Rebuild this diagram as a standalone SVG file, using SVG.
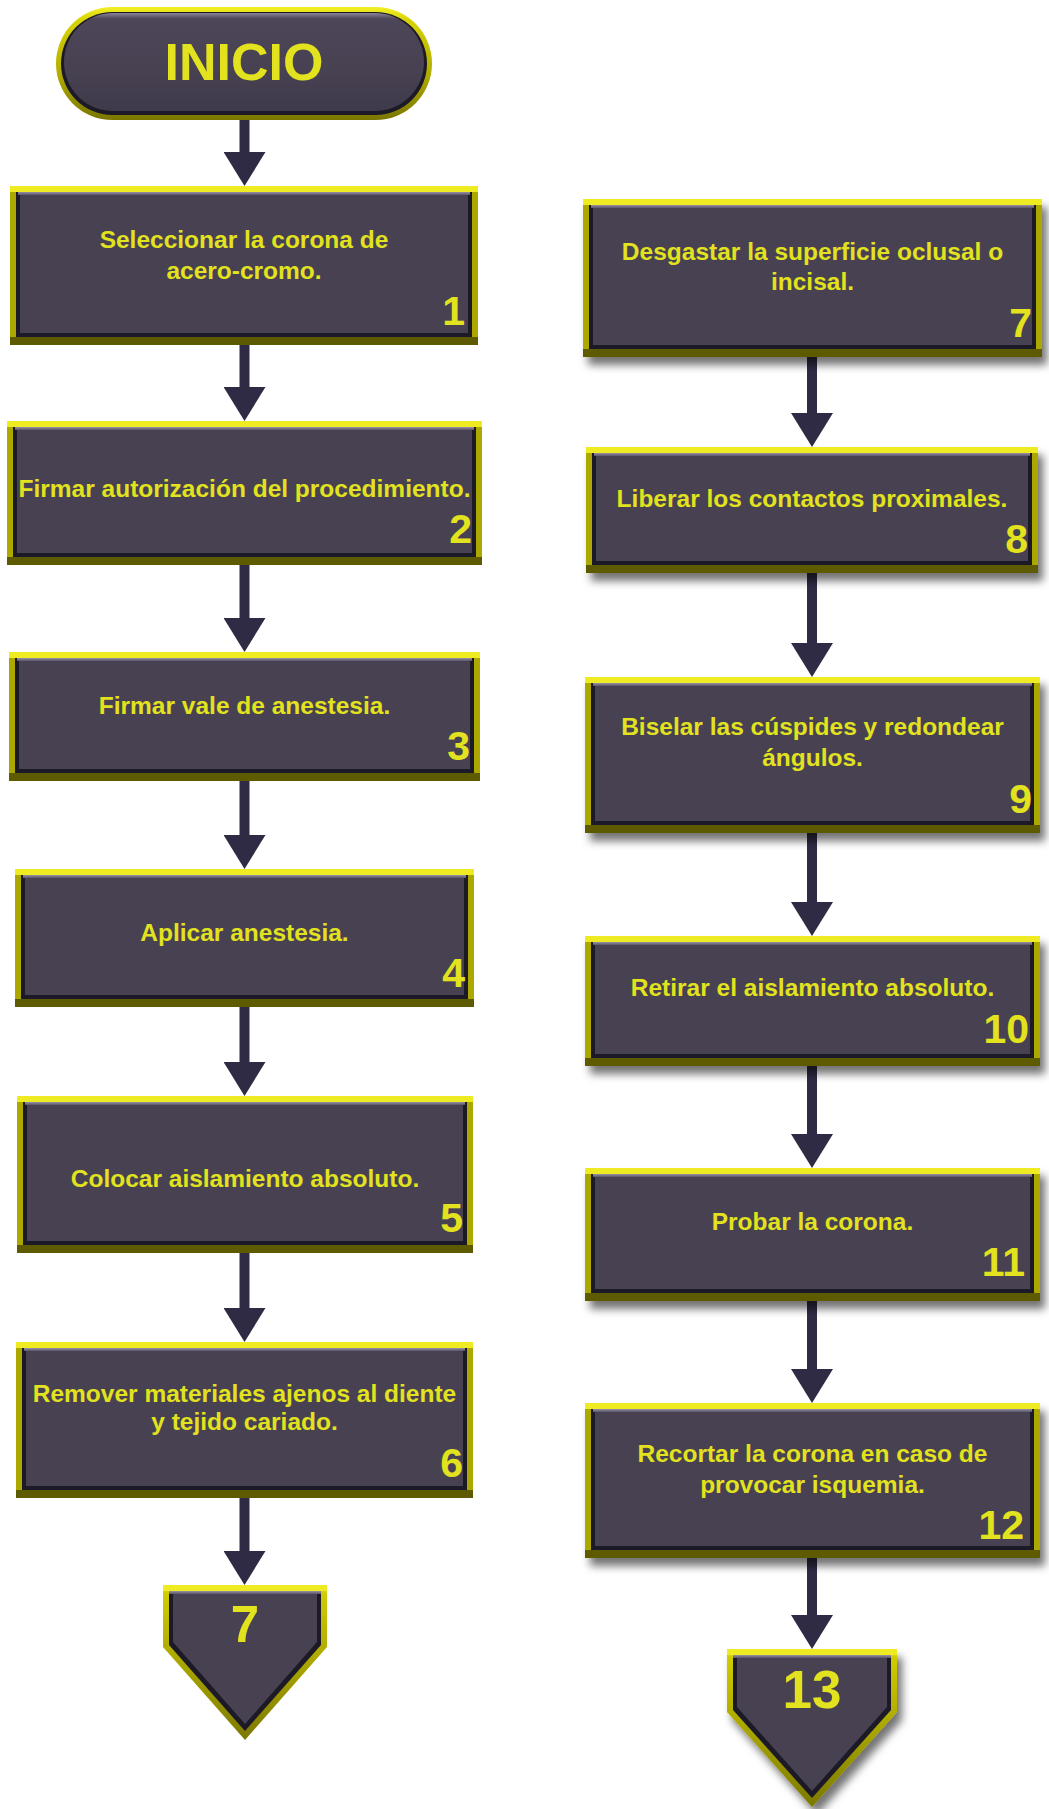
<svg xmlns="http://www.w3.org/2000/svg" width="1049" height="1809" viewBox="0 0 1049 1809">
  <defs>
    <style>
      .rim { fill: #aca800; }
      .rim-hi { fill: #eeeb22; }
      .rim-lo { fill: #5e5a00; }
      .edge { fill: #1d1a27; }
      .face { fill: #474152; }
      .shine { fill: url(#shineGrad); }
      .label { font-family: "Liberation Sans", Arial, sans-serif; font-weight: bold; font-size: 24.5px; fill: #e2e21e; text-anchor: middle; }
      .num { font-family: "Liberation Sans", Arial, sans-serif; font-weight: bold; font-size: 41px; fill: #e2e21e; text-anchor: end; }
      .big { font-family: "Liberation Sans", Arial, sans-serif; font-weight: bold; fill: #e2e21e; text-anchor: middle; }
      .link { stroke: #302b45; stroke-width: 10; fill: none; marker-end: url(#head); }
    </style>
    <linearGradient id="shineGrad" x1="0" y1="0" x2="0" y2="1">
      <stop offset="0" stop-color="#9a92a8"/>
      <stop offset="1" stop-color="#5a5468"/>
    </linearGradient>
    <linearGradient id="pillRim" x1="0" y1="0" x2="0" y2="1">
      <stop offset="0" stop-color="#f2ef24"/>
      <stop offset="0.12" stop-color="#d6d208"/>
      <stop offset="0.6" stop-color="#b0ac00"/>
      <stop offset="1" stop-color="#7a7600"/>
    </linearGradient>
    <linearGradient id="pillFace" x1="0" y1="0" x2="0" y2="1">
      <stop offset="0" stop-color="#8a8298"/>
      <stop offset="0.06" stop-color="#4c4658"/>
      <stop offset="0.6" stop-color="#474152"/>
      <stop offset="1" stop-color="#3f3a4b"/>
    </linearGradient>
    <linearGradient id="pentRim" x1="0" y1="0" x2="0" y2="1">
      <stop offset="0" stop-color="#f2ef24"/>
      <stop offset="0.05" stop-color="#d0cc06"/>
      <stop offset="0.5" stop-color="#aaa600"/>
      <stop offset="1" stop-color="#7c7800"/>
    </linearGradient>
    <filter id="shadow" x="-10%" y="-10%" width="125%" height="140%">
      <feDropShadow dx="5" dy="8" stdDeviation="4" flood-color="#000" flood-opacity="0.55"/>
    </filter>
    <marker id="head" viewBox="0 0 34 42" refX="0" refY="21" markerWidth="34" markerHeight="42" markerUnits="userSpaceOnUse" orient="auto">
      <path d="M0,0 L34,21 L0,42 z" fill="#302b45"/>
    </marker>
  </defs>

  <rect width="1049" height="1809" fill="#ffffff"/>

  <!-- connectors -->
  <g id="connectors">
    <line class="link" x1="244.5" y1="118" x2="244.5" y2="152"/>
    <line class="link" x1="244.5" y1="343" x2="244.5" y2="387"/>
    <line class="link" x1="244.5" y1="563" x2="244.5" y2="618"/>
    <line class="link" x1="244.5" y1="779" x2="244.5" y2="835"/>
    <line class="link" x1="244.5" y1="1005" x2="244.5" y2="1062"/>
    <line class="link" x1="244.5" y1="1251" x2="244.5" y2="1308"/>
    <line class="link" x1="244.5" y1="1496" x2="244.5" y2="1551"/>
    <line class="link" x1="812" y1="355" x2="812" y2="413"/>
    <line class="link" x1="812" y1="571" x2="812" y2="643"/>
    <line class="link" x1="812" y1="831" x2="812" y2="902"/>
    <line class="link" x1="812" y1="1064" x2="812" y2="1134"/>
    <line class="link" x1="812" y1="1299" x2="812" y2="1369"/>
    <line class="link" x1="812" y1="1556" x2="812" y2="1615"/>
  </g>

  <!-- start terminator -->
  <g id="inicio">
    <rect x="56" y="7" width="376" height="113" rx="56.5" fill="url(#pillRim)"/>
    <rect x="61" y="12" width="366" height="103" rx="51.5" class="edge"/>
    <rect x="64" y="13" width="360" height="98" rx="49" fill="url(#pillFace)"/>
    <text class="big" x="244" y="80" font-size="52">INICIO</text>
  </g>

  <!-- left column steps -->
  <g id="n1" transform="translate(10,186)">
    <rect class="rim" width="468" height="159"/>
    <rect class="rim-hi" width="468" height="6"/>
    <rect class="rim-lo" y="151" width="468" height="8"/>
    <rect class="edge" x="6" y="6" width="456" height="145"/>
    <rect class="face" x="10" y="6" width="448" height="141"/>
    <rect class="shine" x="8" y="6" width="452" height="3"/>
    <text class="label" x="234" y="62">Seleccionar la corona de</text>
    <text class="label" x="234" y="93">acero-cromo.</text>
    <text class="num" x="455" y="139">1</text>
  </g>

  <g id="n2" transform="translate(7,421)">
    <rect class="rim" width="475" height="144"/>
    <rect class="rim-hi" width="475" height="6"/>
    <rect class="rim-lo" y="136" width="475" height="8"/>
    <rect class="edge" x="6" y="6" width="463" height="130"/>
    <rect class="face" x="10" y="6" width="455" height="126"/>
    <rect class="shine" x="8" y="6" width="459" height="3"/>
    <text class="label" x="237.5" y="76">Firmar autorización del procedimiento.</text>
    <text class="num" x="465" y="122">2</text>
  </g>

  <g id="n3" transform="translate(9,652)">
    <rect class="rim" width="471" height="129"/>
    <rect class="rim-hi" width="471" height="6"/>
    <rect class="rim-lo" y="121" width="471" height="8"/>
    <rect class="edge" x="6" y="6" width="459" height="115"/>
    <rect class="face" x="10" y="6" width="451" height="111"/>
    <rect class="shine" x="8" y="6" width="455" height="3"/>
    <text class="label" x="235.5" y="62">Firmar vale de anestesia.</text>
    <text class="num" x="461" y="108">3</text>
  </g>

  <g id="n4" transform="translate(15,869)">
    <rect class="rim" width="459" height="138"/>
    <rect class="rim-hi" width="459" height="6"/>
    <rect class="rim-lo" y="130" width="459" height="8"/>
    <rect class="edge" x="6" y="6" width="447" height="124"/>
    <rect class="face" x="10" y="6" width="439" height="120"/>
    <rect class="shine" x="8" y="6" width="443" height="3"/>
    <text class="label" x="229.5" y="72">Aplicar anestesia.</text>
    <text class="num" x="450" y="118">4</text>
  </g>

  <g id="n5" transform="translate(17,1096)">
    <rect class="rim" width="456" height="157"/>
    <rect class="rim-hi" width="456" height="6"/>
    <rect class="rim-lo" y="149" width="456" height="8"/>
    <rect class="edge" x="6" y="6" width="444" height="143"/>
    <rect class="face" x="10" y="6" width="436" height="139"/>
    <rect class="shine" x="8" y="6" width="440" height="3"/>
    <text class="label" x="228" y="91">Colocar aislamiento absoluto.</text>
    <text class="num" x="446" y="136">5</text>
  </g>

  <g id="n6" transform="translate(16,1342)">
    <rect class="rim" width="457" height="156"/>
    <rect class="rim-hi" width="457" height="6"/>
    <rect class="rim-lo" y="148" width="457" height="8"/>
    <rect class="edge" x="6" y="6" width="445" height="142"/>
    <rect class="face" x="10" y="6" width="437" height="138"/>
    <rect class="shine" x="8" y="6" width="441" height="3"/>
    <text class="label" x="228.5" y="60">Remover materiales ajenos al diente</text>
    <text class="label" x="228.5" y="88">y tejido cariado.</text>
    <text class="num" x="447" y="135">6</text>
  </g>

  <!-- off-page connector to step 7 -->
  <g id="c7">
    <polygon points="163,1585 327,1585 327,1647 245,1740 163,1647" fill="url(#pentRim)"/>
    <polygon points="163,1585 327,1585 327,1591 163,1591" class="rim-hi"/>
    <polygon points="169,1591 321,1591 321,1645 245,1731 169,1645" class="edge"/>
    <polygon points="173,1591 317,1591 317,1642 245,1724 173,1642" class="face"/>
    <rect class="shine" x="169" y="1591" width="152" height="3"/>
    <text class="big" x="245" y="1642" font-size="51">7</text>
  </g>

  <!-- right column steps -->
  <g id="n7" transform="translate(583,199)">
    <rect class="rim" width="459" height="158" filter="url(#shadow)"/>
    <rect class="rim-hi" width="459" height="6"/>
    <rect class="rim-lo" y="150" width="459" height="8"/>
    <rect class="edge" x="6" y="6" width="447" height="144"/>
    <rect class="face" x="10" y="6" width="439" height="140"/>
    <rect class="shine" x="8" y="6" width="443" height="3"/>
    <text class="label" x="229.5" y="61">Desgastar la superficie oclusal o</text>
    <text class="label" x="229.5" y="91">incisal.</text>
    <text class="num" x="449" y="138">7</text>
  </g>

  <g id="n8" transform="translate(586,447)">
    <rect class="rim" width="452" height="126" filter="url(#shadow)"/>
    <rect class="rim-hi" width="452" height="6"/>
    <rect class="rim-lo" y="118" width="452" height="8"/>
    <rect class="edge" x="6" y="6" width="440" height="112"/>
    <rect class="face" x="10" y="6" width="432" height="108"/>
    <rect class="shine" x="8" y="6" width="436" height="3"/>
    <text class="label" x="226" y="60">Liberar los contactos proximales.</text>
    <text class="num" x="442" y="106">8</text>
  </g>

  <g id="n9" transform="translate(585,677)">
    <rect class="rim" width="455" height="156" filter="url(#shadow)"/>
    <rect class="rim-hi" width="455" height="6"/>
    <rect class="rim-lo" y="148" width="455" height="8"/>
    <rect class="edge" x="6" y="6" width="443" height="142"/>
    <rect class="face" x="10" y="6" width="435" height="138"/>
    <rect class="shine" x="8" y="6" width="439" height="3"/>
    <text class="label" x="227.5" y="58">Biselar las cúspides y redondear</text>
    <text class="label" x="227.5" y="89">ángulos.</text>
    <text class="num" x="447" y="136">9</text>
  </g>

  <g id="n10" transform="translate(585,936)">
    <rect class="rim" width="455" height="130" filter="url(#shadow)"/>
    <rect class="rim-hi" width="455" height="6"/>
    <rect class="rim-lo" y="122" width="455" height="8"/>
    <rect class="edge" x="6" y="6" width="443" height="116"/>
    <rect class="face" x="10" y="6" width="435" height="112"/>
    <rect class="shine" x="8" y="6" width="439" height="3"/>
    <text class="label" x="227.5" y="60">Retirar el aislamiento absoluto.</text>
    <text class="num" x="444" y="107">10</text>
  </g>

  <g id="n11" transform="translate(585,1168)">
    <rect class="rim" width="455" height="133" filter="url(#shadow)"/>
    <rect class="rim-hi" width="455" height="6"/>
    <rect class="rim-lo" y="125" width="455" height="8"/>
    <rect class="edge" x="6" y="6" width="443" height="119"/>
    <rect class="face" x="10" y="6" width="435" height="115"/>
    <rect class="shine" x="8" y="6" width="439" height="3"/>
    <text class="label" x="227.5" y="62">Probar la corona.</text>
    <text class="num" x="440" y="108">11</text>
  </g>

  <g id="n12" transform="translate(585,1403)">
    <rect class="rim" width="455" height="155" filter="url(#shadow)"/>
    <rect class="rim-hi" width="455" height="6"/>
    <rect class="rim-lo" y="147" width="455" height="8"/>
    <rect class="edge" x="6" y="6" width="443" height="141"/>
    <rect class="face" x="10" y="6" width="435" height="137"/>
    <rect class="shine" x="8" y="6" width="439" height="3"/>
    <text class="label" x="227.5" y="59">Recortar la corona en caso de</text>
    <text class="label" x="227.5" y="90">provocar isquemia.</text>
    <text class="num" x="439" y="136">12</text>
  </g>

  <!-- off-page connector to step 13 -->
  <g id="c13">
    <polygon points="727,1649 897,1649 897,1712 812,1807 727,1712" fill="url(#pentRim)" filter="url(#shadow)"/>
    <polygon points="727,1649 897,1649 897,1655 727,1655" class="rim-hi"/>
    <polygon points="733,1655 891,1655 891,1710 812,1798 733,1710" class="edge"/>
    <polygon points="737,1655 887,1655 887,1707 812,1791 737,1707" class="face"/>
    <rect class="shine" x="733" y="1655" width="158" height="3"/>
    <text class="big" x="812" y="1708" font-size="53">13</text>
  </g>
</svg>
